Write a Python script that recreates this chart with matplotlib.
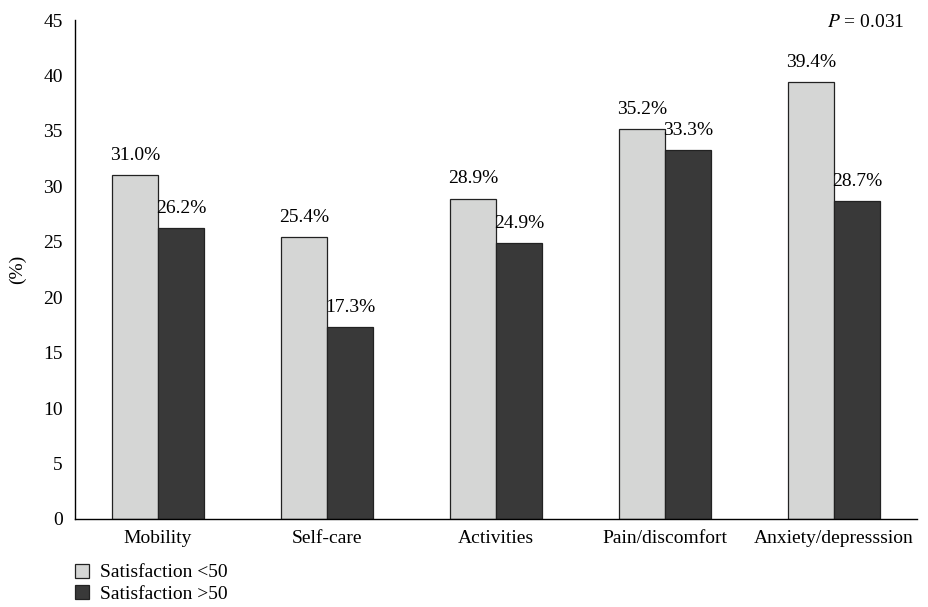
import numpy as np
import matplotlib.pyplot as plt
from matplotlib.lines import Line2D

# data
categories = ['Mobility', 'Self-care', 'Activities', 'Pain/discomfort', 'Anxiety/depresssion']
sat_low = [31.0, 25.4, 28.9, 35.2, 39.4]
sat_high = [26.2, 17.3, 24.9, 33.3, 28.7]
series_names = ['Satisfaction <50', 'Satisfaction >50']
yticks = np.arange(0, 46, 5)

plt.rcParams['font.family'] = ['Liberation Serif', 'DejaVu Serif']
plt.rcParams['mathtext.fontset'] = 'stix'

fs = 14

fig = plt.figure(figsize=(9.29, 6.07), dpi=100)
ax = fig.add_axes([0.081, 0.145, 0.906, 0.822])

x = np.arange(len(categories))
w = 0.272
light = '#d5d6d5'
dark = '#393939'

b1 = ax.bar(x - w / 2, sat_low, w, color=light, edgecolor='#222222', linewidth=0.9)
b2 = ax.bar(x + w / 2, sat_high, w, color=dark, edgecolor='#222222', linewidth=0.9)

for rects, vals in ((b1, sat_low), (b2, sat_high)):
    for r, v in zip(rects, vals):
        ax.text(r.get_x() + r.get_width() / 2, v + 1.0, f'{v:.1f}%',
                ha='center', va='bottom', fontsize=fs)

ax.set_xlim(-0.49, 4.49)
ax.set_ylim(0, 45)
ax.set_yticks(yticks)
ax.set_xticks(x)
ax.set_xticklabels(categories, fontsize=fs)
ax.tick_params(axis='both', length=0, labelsize=fs)
ax.tick_params(axis='x', pad=8)
ax.tick_params(axis='y', pad=9)
for s in ['top', 'right']:
    ax.spines[s].set_visible(False)
ax.spines['left'].set_linewidth(1.0)
ax.spines['bottom'].set_linewidth(1.0)

ax.set_ylabel('(%)', fontsize=fs, labelpad=12)

ax.text(0.985, 0.995, r'$P$ = 0.031', transform=ax.transAxes,
        ha='right', va='center', fontsize=fs)

handles = [Line2D([], [], marker='s', linestyle='none', markersize=10,
                  markerfacecolor=c, markeredgecolor='#222222', markeredgewidth=0.9)
           for c in (light, dark)]
fig.legend(handles, series_names, loc='lower left', bbox_to_anchor=(0.059, -0.022),
           frameon=False, fontsize=fs, handletextpad=0.4, labelspacing=0.2,
           handlelength=1.0)

fig.savefig('out.png', dpi=100)
